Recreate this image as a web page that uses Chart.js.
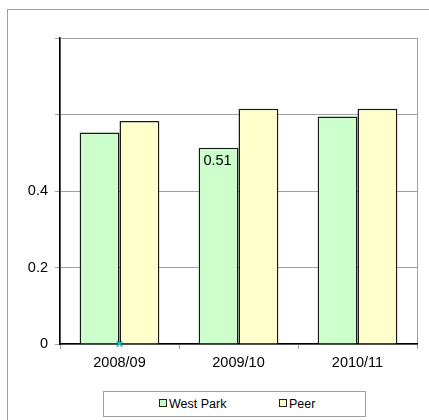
<!DOCTYPE html>
<html>
<head>
<meta charset="utf-8">
<script src="https://cdn.jsdelivr.net/npm/chart.js@4.4.0/dist/chart.umd.min.js"></script>
<style>
  body { margin: 0; background: #fff; }
  #wrap { position: relative; width: 429px; height: 420px; overflow: hidden; }
  #legend {
    position: absolute; left: 103px; top: 391px; width: 261px; height: 24px;
    border: 1px solid #a0a0a0; background: #fff;
    font-family: "Liberation Sans", Arial, sans-serif; font-size: 12.5px; color: #000;
  }
  .item { position: absolute; top: 5px; line-height: 14px; }
  .box { display: inline-block; width: 6px; height: 6px; border: 1px solid #222; margin-right: 2px; vertical-align: 1px; }
</style>
</head>
<body>
<div id="wrap">
  <canvas id="chart" width="429" height="420"></canvas>
  <div id="legend"></div>
</div>
<script>
// data
var years = ['2008/09', '2009/10', '2010/11'];
var westPark = [0.553, 0.513, 0.595];
var peer = [0.583, 0.615, 0.615];
var wpShowLabel = [false, true, false];
var yTicksShown = [0, 0.2, 0.4];

var wpColor = '#ccffcc';
var peerColor = '#ffffcc';

// legend (html, so it can sit in its own box)
var legendEl = document.getElementById('legend');
legendEl.innerHTML =
  '<span class="item" style="left:55px"><span class="box" style="background:' + wpColor + '"></span>West Park</span>' +
  '<span class="item" style="left:175px"><span class="box" style="background:' + peerColor + '"></span>Peer</span>';

// outer frame + gray plot frame
const frame = {
  id: 'frame',
  beforeDraw(chart) {
    const c = chart.ctx;
    const a = chart.chartArea;
    c.save();
    c.strokeStyle = '#a0a0a0';
    c.lineWidth = 1;
    c.strokeRect(7.5, 9.5, 440, 440);
    c.strokeRect(a.left + 0.5, a.top + 0.5, a.right - a.left, a.bottom - a.top);
    c.restore();
  }
};

// single value label inside the bar
const barLabels = {
  id: 'barLabels',
  afterDatasetsDraw(chart) {
    const c = chart.ctx;
    const meta = chart.getDatasetMeta(0);
    c.save();
    c.font = '14.5px "Liberation Sans", Arial, sans-serif';
    c.fillStyle = '#000';
    c.textAlign = 'center';
    c.textBaseline = 'top';
    meta.data.forEach(function (bar, i) {
      if (!wpShowLabel[i]) return;
      c.fillText(westPark[i].toFixed(2), bar.x - 1, bar.y + 6);
    });
    c.restore();
  }
};

new Chart(document.getElementById('chart'), {
  data: {
    labels: years,
    datasets: [
      {
        type: 'bar', label: 'West Park', data: westPark,
        backgroundColor: wpColor, borderColor: '#1a1a1a', borderWidth: 1.5,
        categoryPercentage: 0.67, barPercentage: 1.0, order: 2
      },
      {
        type: 'bar', label: 'Peer', data: peer,
        backgroundColor: peerColor, borderColor: '#1a1a1a', borderWidth: 1.5,
        categoryPercentage: 0.67, barPercentage: 1.0, order: 2
      },
      {
        type: 'line', label: 'marker', data: [0, null, null],
        showLine: false, pointStyle: 'crossRot', pointRadius: 4,
        borderColor: '#00c8e0', borderWidth: 1.5, order: 1, clip: false
      }
    ]
  },
  options: {
    responsive: false,
    animation: false,
    layout: { padding: { top: 38, right: 12, left: 0, bottom: 46 } },
    plugins: { legend: { display: false }, tooltip: { enabled: false } },
    scales: {
      x: {
        afterFit: function (s) { s.height = 30; },
        grid: { offset: true, drawOnChartArea: false, tickLength: 5, color: '#a0a0a0' },
        border: { color: '#000', width: 1.5 },
        ticks: {
          padding: 5, color: '#000',
          font: { family: '"Liberation Sans", Arial, sans-serif', size: 14.5 }
        }
      },
      y: {
        min: 0, max: 0.8,
        afterFit: function (s) { s.width = 60; },
        grid: { color: '#a0a0a0', tickLength: 5 },
        border: { color: '#000', width: 1.5 },
        ticks: {
          stepSize: 0.2, padding: 7, color: '#000',
          font: { family: '"Liberation Sans", Arial, sans-serif', size: 14.5 },
          callback: function (v) {
            var r = Math.round(v * 10) / 10;
            return yTicksShown.indexOf(r) >= 0 ? String(r) : '';
          }
        }
      }
    }
  },
  plugins: [frame, barLabels]
});
</script>
</body>
</html>
